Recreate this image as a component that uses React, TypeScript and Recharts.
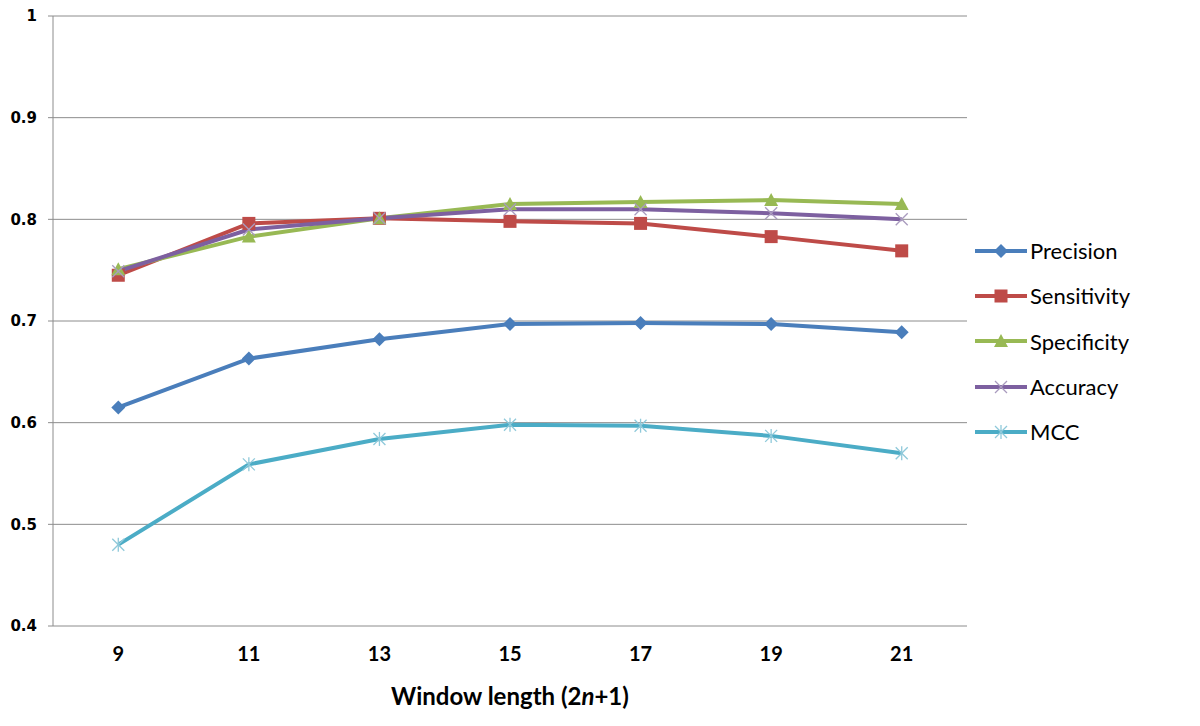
import React from 'react'
import { LineChart, Line, XAxis, YAxis, CartesianGrid } from 'recharts'

const windows = [9, 11, 13, 15, 17, 19, 21]
const precision = [0.615, 0.663, 0.682, 0.697, 0.698, 0.697, 0.689]
const sensitivity = [0.745, 0.796, 0.801, 0.798, 0.796, 0.783, 0.769]
const specificity = [0.751, 0.783, 0.801, 0.815, 0.817, 0.819, 0.815]
const accuracy = [0.749, 0.79, 0.801, 0.81, 0.81, 0.806, 0.8]
const mcc = [0.48, 0.559, 0.584, 0.598, 0.597, 0.587, 0.57]

const yTicks = [0.4, 0.5, 0.6, 0.7, 0.8, 0.9, 1]
const boundaryTicks = [8, 10, 12, 14, 16, 18, 20, 22]

const data = windows.map((w, i) => ({
  w,
  precision: precision[i],
  sensitivity: sensitivity[i],
  specificity: specificity[i],
  accuracy: accuracy[i],
  mcc: mcc[i],
}))

const SERIES = [
  { key: 'precision', name: 'Precision', color: '#4A7EBB', shape: 'diamond' },
  { key: 'sensitivity', name: 'Sensitivity', color: '#BE4B48', shape: 'square' },
  { key: 'specificity', name: 'Specificity', color: '#98B954', shape: 'triangle' },
  { key: 'accuracy', name: 'Accuracy', color: '#7D60A0', shape: 'x' },
  { key: 'mcc', name: 'MCC', color: '#4BACC6', shape: 'star' },
]

// draws a marker centred at cx, cy
const Marker = ({ cx, cy, shape, color }: any) => {
  if (cx == null || cy == null) return null
  switch (shape) {
    case 'diamond':
      return <path d={`M${cx},${cy - 7}L${cx + 7},${cy}L${cx},${cy + 7}L${cx - 7},${cy}Z`} fill={color} />
    case 'square':
      return <rect x={cx - 6.5} y={cy - 6.5} width={13} height={13} fill={color} />
    case 'triangle':
      return <path d={`M${cx},${cy - 7}L${cx + 7},${cy + 6}L${cx - 7},${cy + 6}Z`} fill={color} />
    case 'x':
      return (
        <g stroke="#A99BBE" strokeWidth={1.3}>
          <line x1={cx - 6} y1={cy - 6} x2={cx + 6} y2={cy + 6} />
          <line x1={cx - 6} y1={cy + 6} x2={cx + 6} y2={cy - 6} />
        </g>
      )
    case 'star':
      return (
        <g stroke="#8FC9DA" strokeWidth={1.3}>
          <line x1={cx - 6} y1={cy - 6} x2={cx + 6} y2={cy + 6} />
          <line x1={cx - 6} y1={cy + 6} x2={cx + 6} y2={cy - 6} />
          <line x1={cx} y1={cy - 7} x2={cx} y2={cy + 7} />
        </g>
      )
    default:
      return null
  }
}

const LegendBox = () => (
  <div style={{ position: 'absolute', left: 973, top: 228, fontFamily: 'Lato, "Open Sans", sans-serif', fontSize: 22 }}>
    {SERIES.map((s) => (
      <div key={s.key} style={{ display: 'flex', alignItems: 'center', height: 45.3 }}>
        <svg width={56} height={20}>
          <line x1={2} y1={10} x2={54} y2={10} stroke={s.color} strokeWidth={4} />
          <Marker cx={28} cy={10} shape={s.shape} color={s.color} />
        </svg>
        <span style={{ marginLeft: 1, color: '#000' }}>{s.name}</span>
      </div>
    ))}
  </div>
)

const AxisTitle = ({ viewBox }: any) => {
  const { x, width } = viewBox
  return (
    <text
      x={x + width / 2}
      y={705}
      textAnchor="middle"
      fontFamily='Lato, "Open Sans", sans-serif'
      fontWeight="bold"
      fontSize={24}
      fill="#000"
    >
      Window length (2<tspan fontStyle="italic">n</tspan>+1)
    </text>
  )
}

const App: React.FC = () => {
  return (
    <div style={{ position: 'absolute', left: 0, top: 0, width: 1200, height: 726, background: '#fff' }}>
      <LineChart width={1200} height={726} data={data} margin={{ top: 16, right: 233, bottom: 0, left: 0 }}>
        <CartesianGrid vertical={false} stroke="#8C8C8C" strokeWidth={1} />
        <XAxis
          xAxisId="bounds"
          type="number"
          dataKey="w"
          domain={[8, 22]}
          ticks={boundaryTicks}
          tickFormatter={() => ''}
          tickSize={5}
          height={0}
          stroke="#8C8C8C"
        />
        <XAxis
          xAxisId="main"
          type="number"
          dataKey="w"
          domain={[8, 22]}
          ticks={windows}
          axisLine={false}
          tickLine={false}
          tickSize={0}
          tickMargin={21}
          height={100}
          tick={{ fontFamily: 'Lato, "Open Sans", sans-serif', fontWeight: 'bold', fontSize: 20, fill: '#000' }}
          label={<AxisTitle />}
        />
        <YAxis
          type="number"
          domain={[0.4, 1]}
          ticks={yTicks}
          width={53}
          tickSize={5}
          tickMargin={11}
          stroke="#8C8C8C"
          tickFormatter={(v: number) => (v === 1 ? '1' : v.toFixed(1))}
          tick={{ fontFamily: '"DejaVu Sans", Verdana, sans-serif', fontWeight: 'bold', fontSize: 15, fill: '#000' }}
        />
        {SERIES.map((s) => (
          <Line
            key={s.key}
            xAxisId="main"
            dataKey={s.key}
            name={s.name}
            stroke={s.color}
            strokeWidth={4}
            isAnimationActive={false}
            dot={(props: any) => <Marker key={`${s.key}-${props.index}`} cx={props.cx} cy={props.cy} shape={s.shape} color={s.color} />}
            activeDot={false}
          />
        ))}
      </LineChart>
      <LegendBox />
    </div>
  )
}

export default App
